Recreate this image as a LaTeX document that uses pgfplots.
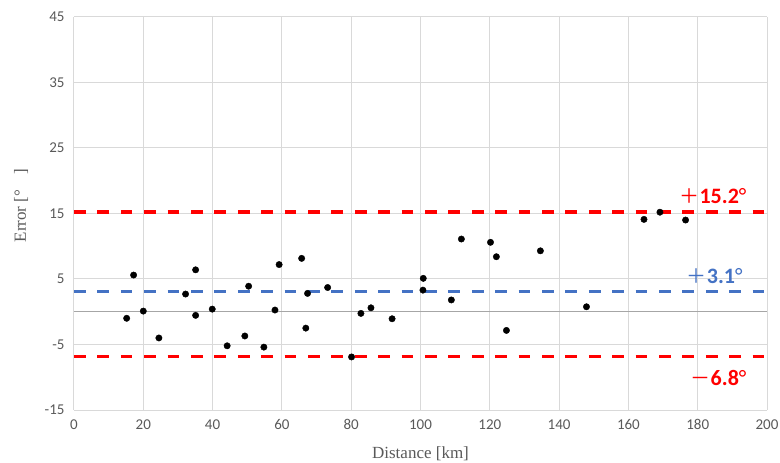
\documentclass[border=0pt]{standalone}
\usepackage{fontspec}
\usepackage{pgfplots}
\pgfplotsset{compat=1.18}
\setmainfont{Liberation Serif}
\newfontfamily\calibri{Carlito}
\newfontfamily\cjk{Noto Sans CJK JP}

\definecolor{gridgray}{HTML}{D9D9D9}
\definecolor{zerogray}{HTML}{A6A6A6}
\definecolor{ticktext}{HTML}{595959}
\definecolor{meanblue}{HTML}{4472C4}
\definecolor{limred}{HTML}{FF0000}

\begin{document}
\begin{tikzpicture}
\path[use as bounding box] (-74bp,-53bp) rectangle (706bp,410bp);
\begin{axis}[
  at={(0,0)}, anchor=south west,
  scale only axis,
  width=693bp, height=393bp,
  xmin=0, xmax=200, ymin=-15, ymax=45,
  xtick={0,20,...,200},
  ytick={-15,-5,5,15,25,35,45},
  axis line style={draw=none},
  major tick length=0pt,
  grid=major,
  major grid style={draw=gridgray, line width=1bp},
  /pgf/number format/assume math mode=true,
  tick label style={font=\calibri\fontsize{15bp}{18bp}\selectfont, text=ticktext},
  yticklabel style={xshift=-6bp},
  xticklabel style={yshift=-6bp},
  xlabel={Distance [km]},
  ylabel={Error [°\hspace{0.9em}]},
  label style={font=\fontsize{17bp}{20bp}\selectfont, text=ticktext},
  xlabel style={at={(axis description cs:0.5,0)}, anchor=center, yshift=-44bp},
  ylabel style={at={(axis description cs:0,0.5)}, anchor=center, yshift=53bp, xshift=8bp},
  clip=false,
]
% horizontal axis line through zero
\addplot[draw=zerogray, line width=1.2bp] coordinates {(0,0) (200,0)};

% limits of agreement and mean error
\addplot[draw=limred, line width=3.5bp, dash pattern=on 11.7bp off 11.7bp]
  coordinates {(0,15.2) (200,15.2)};
\addplot[draw=limred, line width=3.5bp, dash pattern=on 11.7bp off 11.7bp]
  coordinates {(0,-6.8) (200,-6.8)};
\addplot[draw=meanblue, line width=3.5bp, dash pattern=on 11.7bp off 11.7bp]
  coordinates {(0,3.1) (200,3.1)};

% measured errors
\addplot[only marks, mark=*, mark size=3.2bp, black] coordinates {
  (15.2,-1.0) (17.2,5.6) (20.0,0.1) (24.5,-4.0) (32.2,2.7)
  (35.1,6.4) (35.1,-0.55) (39.9,0.4) (44.2,-5.2) (49.3,-3.7)
  (50.4,3.9) (54.8,-5.4) (58.0,0.26) (59.2,7.2) (65.7,8.15)
  (67.4,2.8) (66.9,-2.5) (73.2,3.7) (80.1,-6.9) (82.8,-0.25)
  (85.7,0.6) (91.8,-1.07) (100.8,5.1) (100.7,3.3) (108.9,1.8)
  (111.8,11.1) (120.2,10.6) (121.9,8.4) (124.8,-2.85) (134.6,9.3)
  (147.9,0.76) (164.5,14.1) (169.1,15.2) (176.5,14.0)
};

\node[anchor=base east, inner sep=0pt, text=limred] at (axis cs:194.1,16.6)
  {\cjk\fontsize{20bp}{24bp}\selectfont ＋\calibri\bfseries\fontsize{22bp}{26bp}\selectfont 15.2\mdseries°};
\node[anchor=base east, inner sep=0pt, text=meanblue] at (axis cs:193.0,4.37)
  {\cjk\fontsize{20bp}{24bp}\selectfont ＋\calibri\bfseries\fontsize{22bp}{26bp}\selectfont 3.1\mdseries°};
\node[anchor=base east, inner sep=0pt, text=limred] at (axis cs:194.1,-11.2)
  {\cjk\fontsize{20bp}{24bp}\selectfont －\calibri\bfseries\fontsize{22bp}{26bp}\selectfont 6.8\mdseries°};
\end{axis}
\end{tikzpicture}
\end{document}
